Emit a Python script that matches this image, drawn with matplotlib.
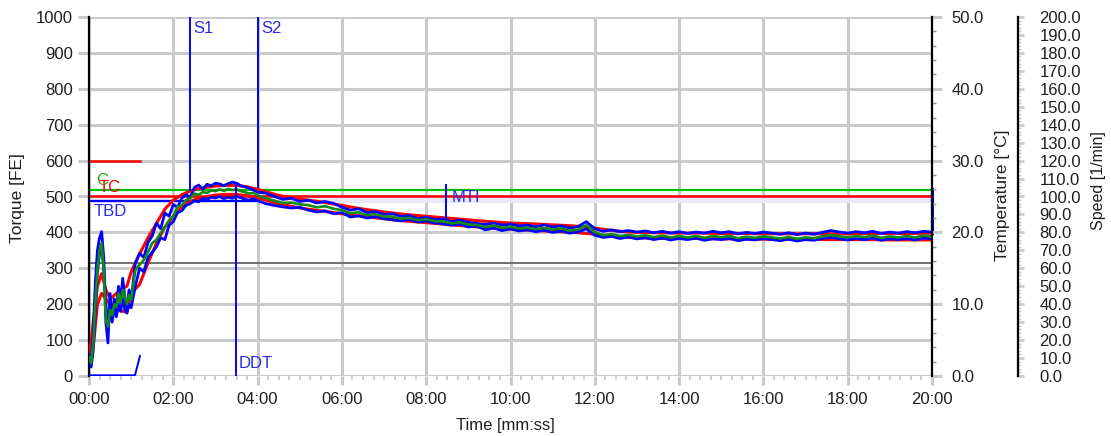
import numpy as np
import matplotlib.pyplot as plt
from matplotlib.ticker import MultipleLocator, FuncFormatter

plt.rcParams['font.family'] = ['Liberation Sans', 'DejaVu Sans']
plt.rcParams['font.size'] = 12

# --- data (time in minutes, torque in FE) ---
t_fast = np.linspace(0, 1.0, 21)
t_mid = np.linspace(1.1, 4.0, 30)
t_slow = np.linspace(4.2, 20.0, 80)
t_curve = np.concatenate([t_fast, t_mid, t_slow])

blue1 = [58, 30, 120, 260, 350, 385, 402, 330, 150, 92, 230, 160, 215, 185, 250, 205, 272, 220, 190, 240, 212,
         315, 342, 330, 372, 390, 426, 410, 454, 445, 478, 470, 495, 505, 498, 525,
         532, 520, 534, 530, 537, 535, 530, 536, 540, 537, 530, 527, 523, 518, 512,
         509, 500, 492, 495, 486, 490, 482, 486, 481, 470,
         462, 466, 455, 458, 450, 452, 445, 447, 438, 442,
         436, 438, 430, 434, 428, 425, 422, 426, 420, 423,
         418, 420, 416, 421, 415, 418, 412, 416, 430, 410,
         403, 407, 402, 405, 401, 404, 399, 403, 398, 402,
         397, 401, 398, 403, 399, 402, 396, 400, 397, 401,
         398, 395, 399, 394, 398, 395, 400, 405, 401, 398,
         402, 399, 403, 397, 401, 398, 402, 399, 403, 401]

blue2 = [50, 25, 70, 180, 290, 340, 360, 300, 200, 140, 175, 150, 190, 165, 200, 180, 215, 185, 175, 200, 190,
         250, 300, 290, 330, 345, 360, 385, 380, 420, 430, 455, 460, 475, 480, 488,
         485, 495, 492, 498, 496, 500, 494, 498, 495, 500, 497, 492, 490, 494, 488,
         480, 475, 471, 468, 470, 462, 457, 460, 452, 455,
         443, 446, 440, 444, 438, 435, 432, 436, 429, 432,
         426, 424, 420, 423, 415, 418, 407, 412, 405, 410,
         404, 407, 402, 406, 400, 404, 398, 401, 410, 392,
         386, 389, 383, 387, 382, 385, 380, 384, 379, 383,
         380, 384, 378, 382, 380, 383, 377, 381, 379, 383,
         380, 377, 381, 376, 380, 378, 383, 386, 382, 379,
         383, 380, 384, 378, 382, 380, 383, 379, 384, 382]

green = [53, 36, 90, 200, 300, 350, 370, 290, 160, 137, 184, 170, 200, 192, 230, 205, 240, 220, 200, 225, 212,
         295, 310, 323, 345, 370, 380, 398, 415, 434, 445, 471, 475, 490, 495, 508,
         505, 512, 510, 517, 515, 520, 516, 521, 518, 520, 515, 512, 508, 510, 503,
         495, 488, 482, 483, 478, 476, 470, 473, 466, 462,
         453, 456, 448, 451, 444, 444, 438, 441, 434, 437,
         431, 431, 425, 428, 422, 421, 415, 419, 413, 416,
         411, 413, 409, 413, 408, 411, 405, 408, 420, 401,
         392, 395, 390, 393, 389, 392, 387, 391, 386, 390,
         386, 390, 385, 390, 387, 390, 384, 388, 385, 389,
         386, 383, 387, 382, 386, 384, 389, 393, 389, 386,
         390, 387, 391, 385, 389, 386, 390, 386, 391, 389]

t_red = [0, 0.1, 0.2, 0.3, 0.4, 0.5, 0.6, 0.7, 0.8, 0.9, 1.0,
         1.2, 1.4, 1.6, 1.8, 2.0, 2.2, 2.4, 2.6, 2.8, 3.0,
         3.25, 3.5, 3.75, 4.0,
         4.5, 5.0, 5.5, 6.0, 6.5, 7.0, 7.5, 8.0, 8.5, 9.0, 9.5, 10.0,
         10.5, 11.0, 11.5, 12.0, 12.5, 13, 13.5, 14, 14.5, 15, 15.5, 16, 16.5, 17, 17.5, 18, 18.5, 19, 19.5, 20]
red_hi = [45, 150, 250, 285, 240, 215, 225, 235, 245, 250, 290,
          340, 385, 425, 465, 490, 505, 515, 522, 526, 529,
          531, 531, 527, 520,
          503, 493, 485, 475, 465, 457, 450, 445, 440, 435, 430, 426,
          424, 421, 418, 412, 404, 400, 399, 398, 398, 397, 397, 396, 396, 396, 396, 396, 397, 397, 397, 398]
red_lo = [40, 80, 200, 230, 215, 200, 190, 185, 180, 178, 230,
          255, 315, 370, 415, 445, 470, 486, 495, 500, 504,
          506, 506, 502, 496,
          480, 468, 460, 452, 445, 438, 432, 427, 422, 417, 413, 409,
          406, 403, 400, 395, 388, 385, 384, 383, 383, 382, 382, 381, 381, 381, 380, 380, 380, 379, 379, 379]

speed_t = [0, 1.09, 1.21]
speed_v = [2, 2, 56]

# reference levels and markers
c_level = 518
tc_level = 501
tbd_level = 488
tbd_end = 4.0
gray_level = 315
red_short_level = 600
red_short_end = 1.21
s1_t, s1_bottom = 2.40, 518
s2_t, s2_bottom = 4.01, 526
ddt_t, ddt_top = 3.49, 532
mti_t, mti_top, mti_bottom = 8.47, 532, 440
end_top, end_bottom = 520, 398

BLUE = '#0000ff'
RED = '#ff0000'
GREEN_CURVE = '#138a13'
GREEN_LINE = '#00c000'
GRID = '#c8cacc'
TEXT_BLUE = '#2a2ae6'
TXT = '#1e1e1e'

fig = plt.figure(figsize=(11.11, 4.36), dpi=100)
ax = fig.add_axes([89 / 1111, 1 - 376 / 436, (932 - 89) / 1111, (376 - 17) / 436])

ax.set_xlim(0, 20)
ax.set_ylim(0, 1000)
ax.set_xticks(range(0, 21, 2))
ax.xaxis.set_minor_locator(MultipleLocator(0.25))
ax.set_yticks(range(0, 1001, 100))
ax.xaxis.set_major_formatter(FuncFormatter(lambda v, p: f"{int(round(v)):02d}:00"))
ax.grid(True, which='major', color=GRID, lw=2.2)
ax.set_axisbelow(True)
ax.tick_params(axis='y', which='major', length=8, width=2.2, color=GRID, pad=3.5, labelcolor=TXT, labelsize=12)
ax.tick_params(axis='x', which='major', length=6.5, width=2.2, color=GRID, pad=5, labelcolor=TXT, labelsize=12)
ax.tick_params(axis='x', which='minor', length=3, width=1.2, color=GRID)
for s in ['top', 'bottom', 'right']:
    ax.spines[s].set_visible(False)
ax.spines['left'].set_color('black')
ax.spines['left'].set_linewidth(1.6)

# reference lines
ax.axhspan(482, tc_level, color='#e8e8fa', zorder=1, lw=0)
ax.axhline(gray_level, color='#707070', lw=1.4, zorder=2)
ax.axhline(c_level, color=GREEN_LINE, lw=1.6, zorder=2)
ax.axhline(tc_level, color=RED, lw=1.8, zorder=2)
ax.plot([0, tbd_end], [tbd_level, tbd_level], color=BLUE, lw=1.6, zorder=2)
ax.plot([0, red_short_end], [red_short_level, red_short_level], color=RED, lw=1.8, zorder=2)

# curves
ax.plot(t_red, red_hi, color=RED, lw=2.2, zorder=3)
ax.plot(t_red, red_lo, color=RED, lw=2.2, zorder=3)
ax.plot(t_curve, blue1, color=BLUE, lw=2.0, zorder=4)
ax.plot(t_curve, blue2, color=BLUE, lw=2.0, zorder=4)
ax.plot(t_curve, green, color=GREEN_CURVE, lw=1.9, zorder=5)
ax.plot(speed_t, speed_v, color=BLUE, lw=1.4, zorder=4)

# event markers
ax.plot([s1_t, s1_t], [s1_bottom, 1000], color=BLUE, lw=1.4, zorder=6)
ax.plot([s2_t, s2_t], [s2_bottom, 1000], color=BLUE, lw=1.4, zorder=6)
ax.plot([ddt_t, ddt_t], [0, ddt_top], color=BLUE, lw=1.4, zorder=6)
ax.plot([mti_t, mti_t], [mti_bottom, mti_top], color=BLUE, lw=1.4, zorder=6)
ax.plot([20, 20], [end_bottom, end_top], color=BLUE, lw=2.2, zorder=6, clip_on=False)

ax.text(s1_t + 0.07, 967, 'S1', color=TEXT_BLUE, fontsize=12, va='center', ha='left')
ax.text(s2_t + 0.07, 967, 'S2', color=TEXT_BLUE, fontsize=12, va='center', ha='left')
ax.text(ddt_t + 0.07, 36, 'DDT', color=TEXT_BLUE, fontsize=12, va='center', ha='left')
ax.text(mti_t + 0.14, 496, 'MTI', color=TEXT_BLUE, fontsize=12, va='center', ha='left')
ax.text(0.1, 457, 'TBD', color=TEXT_BLUE, fontsize=12, va='center', ha='left')
ax.text(0.17, 545, 'C', color='#20b020', fontsize=12, va='center', ha='left')
ax.text(0.24, 526, 'TC', color=RED, fontsize=12, va='center', ha='left')

# temperature axis
ax2 = ax.twinx()
ax2.set_ylim(0, 50)
ax2.set_yticks(range(0, 51, 10))
ax2.yaxis.set_minor_locator(MultipleLocator(2))
ax2.yaxis.set_major_formatter(FuncFormatter(lambda v, p: f"{v:.1f}"))
ax2.tick_params(axis='y', which='major', length=7.5, width=2.2, color=GRID, pad=6.5, labelcolor=TXT, labelsize=12)
ax2.tick_params(axis='y', which='minor', length=3, width=1.0, color='#909090')
for s in ['top', 'bottom', 'left']:
    ax2.spines[s].set_visible(False)
ax2.spines['right'].set_color('black')
ax2.spines['right'].set_linewidth(1.6)

# speed axis
ax3 = ax.twinx()
ax3.spines['right'].set_position(('axes', (1018 - 89) / (932 - 89)))
ax3.set_ylim(0, 200)
ax3.set_yticks(range(0, 201, 10))
ax3.yaxis.set_minor_locator(MultipleLocator(2))
ax3.yaxis.set_major_formatter(FuncFormatter(lambda v, p: f"{v:.1f}"))
ax3.tick_params(axis='y', which='major', length=4.5, width=2.0, color=GRID, pad=11, labelcolor=TXT, labelsize=12)
ax3.tick_params(axis='y', which='minor', length=2.5, width=1.0, color=GRID)
for s in ['top', 'bottom', 'left']:
    ax3.spines[s].set_visible(False)
ax3.spines['right'].set_color('black')
ax3.spines['right'].set_linewidth(1.6)

# axis titles
fig.text(18 / 1111, 1 - 198 / 436, 'Torque [FE]', rotation=90, ha='center', va='center', fontsize=12.5, color=TXT)
fig.text(1003 / 1111, 1 - 195 / 436, 'Temperature [°C]', rotation=90, ha='center', va='center', fontsize=12.5, color=TXT)
fig.text(1098 / 1111, 1 - 181 / 436, 'Speed [1/min]', rotation=90, ha='center', va='center', fontsize=11.5, color=TXT)
fig.text(505 / 1111, 1 - 425 / 436, 'Time [mm:ss]', ha='center', va='center', fontsize=12, color=TXT)

fig.savefig('out.png', dpi=100)
